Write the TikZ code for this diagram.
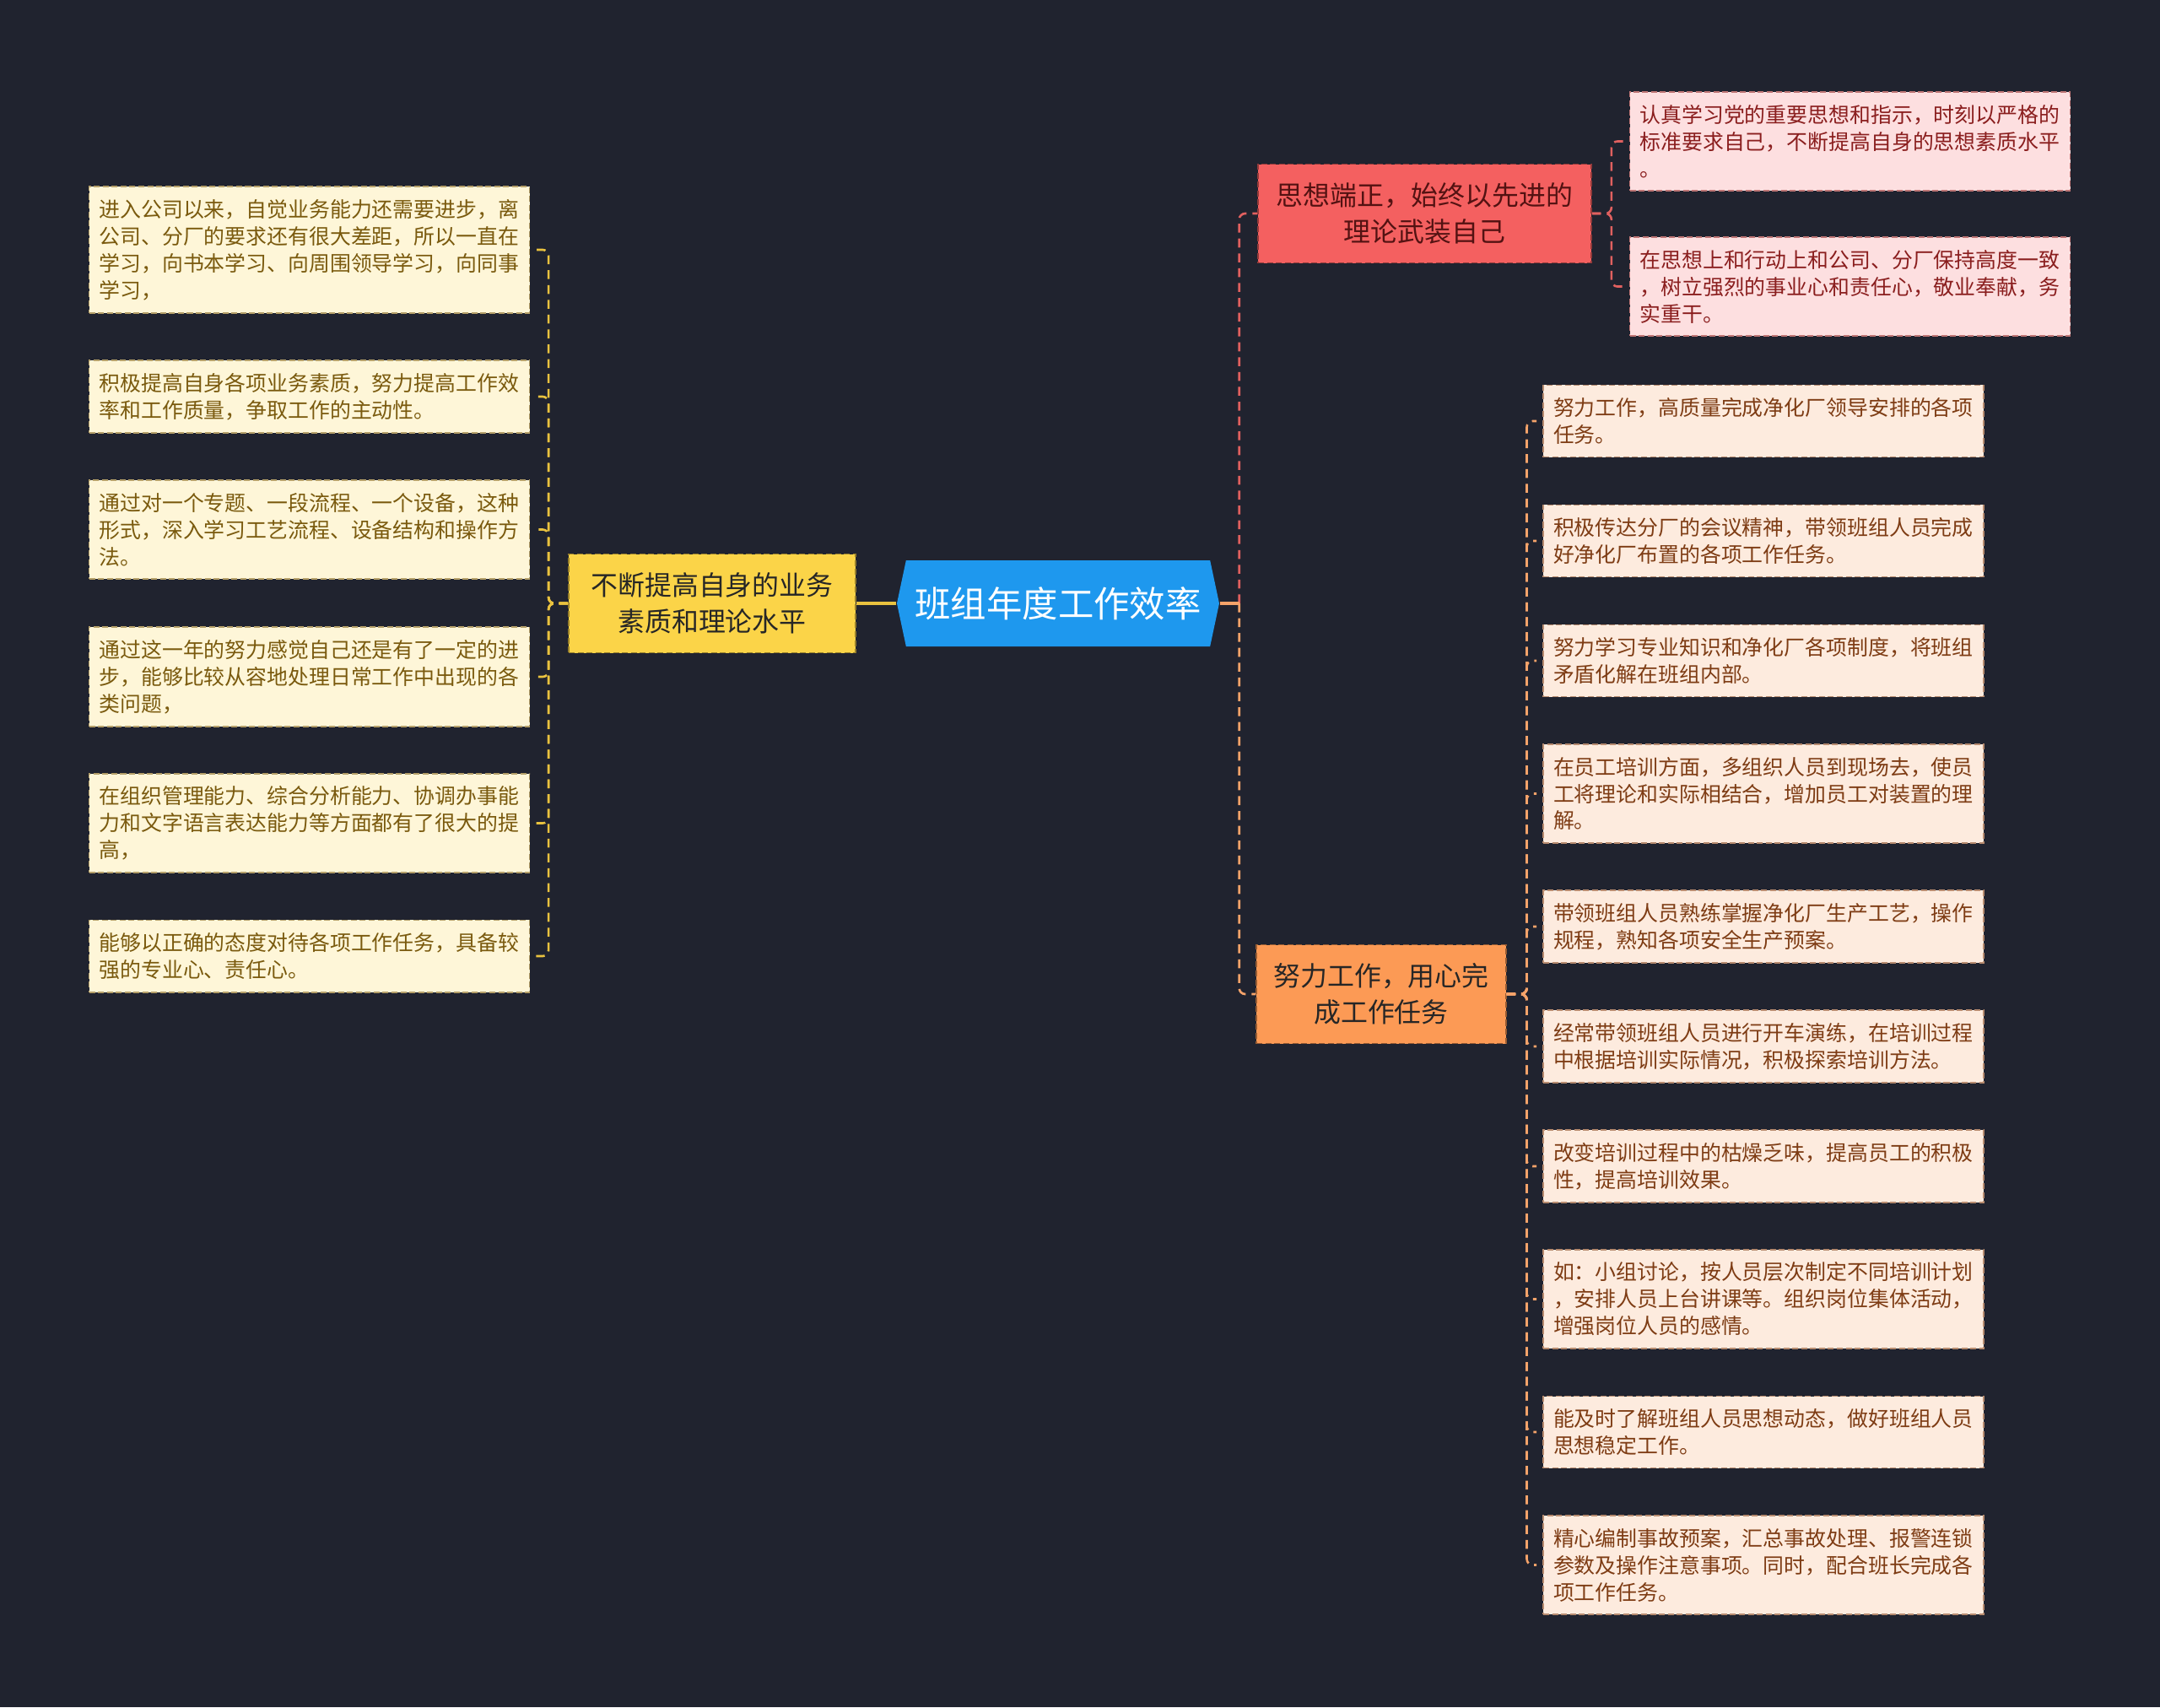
\documentclass[tikz,border=0pt]{standalone}
\usepackage{fontspec}
\setmainfont{Noto Sans CJK SC}
\usetikzlibrary{shapes.symbols}

\definecolor{bgdark}{HTML}{20232F}
\definecolor{rootblue}{HTML}{1E98EE}
\definecolor{lmainfill}{HTML}{FBD448}
\definecolor{lleaffill}{HTML}{FEF6D8}
\definecolor{lleaftext}{HTML}{7A5A0E}
\definecolor{lline}{HTML}{E9C23F}
\definecolor{rmainfill}{HTML}{F46060}
\definecolor{rleaffill}{HTML}{FDDFE0}
\definecolor{rleaftext}{HTML}{8A1E1E}
\definecolor{rline}{HTML}{E0605F}
\definecolor{omainfill}{HTML}{FC9A55}
\definecolor{oleaffill}{HTML}{FDEBDE}
\definecolor{oleaftext}{HTML}{7E3C14}
\definecolor{oline}{HTML}{F5A36A}

\begin{document}
\begin{tikzpicture}
        % Styles
        \tikzstyle{root}=[signal, signal to=west and east, signal pointer angle=156, fill=rootblue, text=white, font=\fontsize{12.06pt}{14pt}\selectfont, minimum width=3.82cm, minimum height=1.02cm, inner sep=0pt]
        \tikzstyle{topic}=[rectangle, draw, dash pattern=on 2pt off 1pt, line width=0.5pt, align=center, font=\fontsize{9.08pt}{12.1pt}\selectfont, inner xsep=0.2cm, minimum height=1.17cm, text=black!85]
        \tikzstyle{leaf}=[rectangle, draw, dash pattern=on 2pt off 1pt, line width=0.5pt, align=left, text width=4.98cm, inner xsep=0.12cm, inner ysep=0.15cm, font=\fontsize{7.08pt}{9.1pt}\selectfont]
        \tikzstyle{lleaf}=[leaf, fill=lleaffill, draw=lleaftext!55!lleaffill, text=lleaftext]
        \tikzstyle{rleaf}=[leaf, fill=rleaffill, draw=rleaftext!55!rleaffill, text=rleaftext]
        \tikzstyle{oleaf}=[leaf, fill=oleaffill, draw=oleaftext!55!oleaffill, text=oleaftext]
        \tikzstyle{link}=[line width=0.75pt, dash pattern=on 3pt off 2pt, rounded corners=2pt]
        \tikzstyle{stem}=[line width=0.9pt]

        % Background
        \fill[bgdark] (0,0) rectangle (25.6,-20.23);
        \useasboundingbox (0,0) rectangle (25.6,-20.23);

        % Nodes
        \node[root] (root) at (12.54,-7.15) {班组年度工作效率};

        \node[topic, fill=lmainfill, draw=lmainfill!60!black, minimum width=3.4cm] (lmain) at (8.44,-7.15) {不断提高自身的业务\\素质和理论水平};
        \node[topic, fill=rmainfill, draw=rmainfill!60!black, minimum width=3.95cm, text=rleaftext!60!black] (rmaina) at (16.885,-2.53) {思想端正，始终以先进的\\理论武装自己};
        \node[topic, fill=omainfill, draw=omainfill!60!black, minimum width=2.92cm] (rmainb) at (16.37,-11.78) {努力工作，用心完\\成工作任务};

        \node[lleaf] (la) at (3.665,-2.96) {进入公司以来，自觉业务能力还需要进步，离\\公司、分厂的要求还有很大差距，所以一直在\\学习，向书本学习、向周围领导学习，向同事\\学习，};
        \node[lleaf] (lb) at (3.665,-4.70) {积极提高自身各项业务素质，努力提高工作效\\率和工作质量，争取工作的主动性。};
        \node[lleaf] (lc) at (3.665,-6.275) {通过对一个专题、一段流程、一个设备，这种\\形式，深入学习工艺流程、设备结构和操作方\\法。};
        \node[lleaf] (ld) at (3.665,-8.02) {通过这一年的努力感觉自己还是有了一定的进\\步，能够比较从容地处理日常工作中出现的各\\类问题，};
        \node[lleaf] (le) at (3.665,-9.755) {在组织管理能力、综合分析能力、协调办事能\\力和文字语言表达能力等方面都有了很大的提\\高，};
        \node[lleaf] (lf) at (3.665,-11.33) {能够以正确的态度对待各项工作任务，具备较\\强的专业心、责任心。};

        \node[rleaf] (ra) at (21.925,-1.675) {认真学习党的重要思想和指示，时刻以严格的\\标准要求自己，不断提高自身的思想素质水平\\。};
        \node[rleaf] (rb) at (21.925,-3.395) {在思想上和行动上和公司、分厂保持高度一致\\，树立强烈的事业心和责任心，敬业奉献，务\\实重干。};

        \node[oleaf] (oa) at (20.90,-4.99) {努力工作，高质量完成净化厂领导安排的各项\\任务。};
        \node[oleaf] (ob) at (20.90,-6.41) {积极传达分厂的会议精神，带领班组人员完成\\好净化厂布置的各项工作任务。};
        \node[oleaf] (oc) at (20.90,-7.83) {努力学习专业知识和净化厂各项制度，将班组\\矛盾化解在班组内部。};
        \node[oleaf] (od) at (20.90,-9.405) {在员工培训方面，多组织人员到现场去，使员\\工将理论和实际相结合，增加员工对装置的理\\解。};
        \node[oleaf] (oe) at (20.90,-10.98) {带领班组人员熟练掌握净化厂生产工艺，操作\\规程，熟知各项安全生产预案。};
        \node[oleaf] (of) at (20.90,-12.40) {经常带领班组人员进行开车演练，在培训过程\\中根据培训实际情况，积极探索培训方法。};
        \node[oleaf] (og) at (20.90,-13.82) {改变培训过程中的枯燥乏味，提高员工的积极\\性，提高培训效果。};
        \node[oleaf] (oh) at (20.90,-15.395) {如：小组讨论，按人员层次制定不同培训计划\\，安排人员上台讲课等。组织岗位集体活动，\\增强岗位人员的感情。};
        \node[oleaf] (oi) at (20.90,-16.97) {能及时了解班组人员思想动态，做好班组人员\\思想稳定工作。};
        \node[oleaf] (oj) at (20.90,-18.545) {精心编制事故预案，汇总事故处理、报警连锁\\参数及操作注意事项。同时，配合班长完成各\\项工作任务。};

        % Links
        \coordinate (rfork) at ([xshift=0.23cm]root.east);
        \draw[stem, lline] (root.west) -- (lmain.east);
        \draw[link, rline] (rfork) |- (rmaina.west);
        \draw[link, oline] (rfork) |- (rmainb.west);
        \draw[stem, oline] (root.east) -- (rfork);
        \foreach \leaf in {la,lb,lc,ld,le,lf}
            \draw[link, lline, shorten >=2pt] (lmain.west) -- ++(-0.23,0) |- (\leaf.east);
        \foreach \leaf in {ra,rb}
            \draw[link, rline, shorten >=2pt] (rmaina.east) -- ++(0.23,0) |- (\leaf.west);
        \foreach \leaf in {oa,ob,oc,od,oe,of,og,oh,oi,oj}
            \draw[link, oline, shorten >=2pt] (rmainb.east) -- ++(0.24,0) |- (\leaf.west);
    \end{tikzpicture}
\end{document}
